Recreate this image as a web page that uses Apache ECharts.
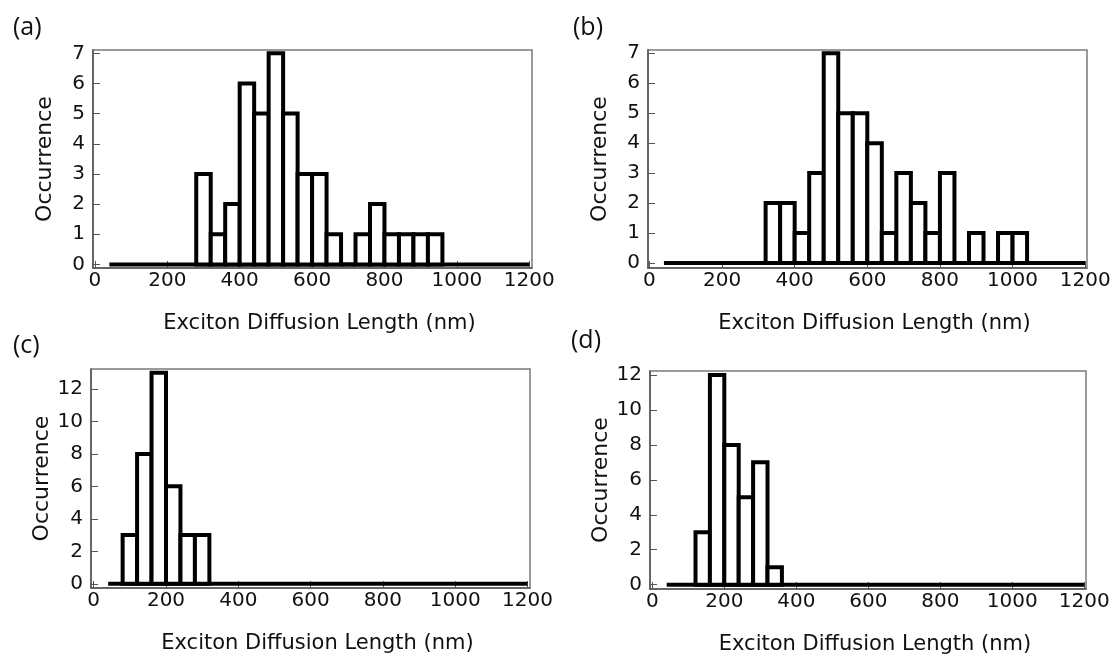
<!DOCTYPE html>
<html>
<head>
<meta charset="utf-8">
<script src="https://cdn.jsdelivr.net/npm/echarts@6/dist/echarts.min.js"></script>
<style>
  html, body { margin: 0; padding: 0; background: #fff; }
  #main { width: 1118px; height: 659px; }
</style>
</head>
<body>
<div id="main"></div>
<script>
// bin left edges (nm) and counts, bins are 40 nm wide
const binWidth = 40;
const aStarts = [280, 320, 360, 400, 440, 480, 520, 560, 600, 640, 680, 720, 760, 800, 840, 880, 920];
const aCounts = [3, 1, 2, 6, 5, 7, 5, 3, 3, 1, 0, 1, 2, 1, 1, 1, 1];
const bStarts = [320, 360, 400, 440, 480, 520, 560, 600, 640, 680, 720, 760, 800, 840, 880, 920, 960, 1000];
const bCounts = [2, 2, 1, 3, 7, 5, 5, 4, 1, 3, 2, 1, 3, 0, 1, 0, 1, 1];
const cStarts = [80, 120, 160, 200, 240, 280];
const cCounts = [3, 8, 13, 6, 3, 3];
const dStarts = [120, 160, 200, 240, 280, 320];
const dCounts = [3, 12, 8, 5, 7, 1];

// the flat zero line under every histogram
const baseLine = [[40, 0], [1200, 0]];

const xTicks = [0, 200, 400, 600, 800, 1000, 1200];
const yTicksSmall = [0, 1, 2, 3, 4, 5, 6, 7];
const yTicksBig = [0, 2, 4, 6, 8, 10, 12];
const panelLabels = ['(a)', '(b)', '(c)', '(d)'];
const xName = 'Exciton Diffusion Length (nm)';
const yName = 'Occurrence';

const font = 'DejaVu Sans';

// panel boxes and axis ranges
const panels = [
  { grid: { left: 93, top: 50, width: 439, height: 218 }, x: [-5.2, 1207.5], y: [-0.12, 7.11], ticks: yTicksSmall, starts: aStarts, counts: aCounts, lab: [13, 15] },
  { grid: { left: 648, top: 50, width: 439, height: 218 }, x: [-3.9, 1205], y: [-0.17, 7.11], ticks: yTicksSmall, starts: bStarts, counts: bCounts, lab: [573, 15] },
  { grid: { left: 91, top: 369, width: 439, height: 219 }, x: [-7.5, 1207], y: [-0.26, 13.23], ticks: yTicksBig, starts: cStarts, counts: cCounts, lab: [13, 333] },
  { grid: { left: 650, top: 371, width: 436, height: 218 }, x: [-6.4, 1204.7], y: [-0.25, 12.23], ticks: yTicksBig, starts: dStarts, counts: dCounts, lab: [571, 328] }
];

function renderBin(params, api) {
  let p0 = api.coord([api.value(0), api.value(2)]);
  let p1 = api.coord([api.value(1), 0]);
  return {
    type: 'rect',
    shape: { x: p0[0], y: p0[1], width: p1[0] - p0[0], height: p1[1] - p0[1] },
    style: { fill: '#fff', stroke: '#000', lineWidth: 4 }
  };
}

let grids = [], xAxes = [], yAxes = [], series = [], graphics = [];
panels.forEach(function (p, i) {
  grids.push(Object.assign({ show: true, borderColor: '#7a7a7a', borderWidth: 1.5, backgroundColor: '#fff' }, p.grid));
  xAxes.push({
    type: 'value', gridIndex: i, min: p.x[0], max: p.x[1],
    name: xName, nameLocation: 'middle', nameGap: 45,
    nameTextStyle: { fontFamily: font, fontSize: 21, color: '#111', padding: [0, 0, 0, 14] },
    axisLine: { show: true, onZero: false, lineStyle: { color: '#555', width: 1.5 } },
    axisTick: { show: true, inside: true, length: 7, customValues: xTicks, lineStyle: { color: '#555' } },
    axisLabel: { customValues: xTicks, margin: 3, fontFamily: font, fontSize: 20, color: '#111',
      formatter: function (v) { return String(v); } },
    splitLine: { show: false }
  });
  yAxes.push({
    type: 'value', gridIndex: i, min: p.y[0], max: p.y[1],
    name: yName, nameLocation: 'middle', nameGap: 37,
    nameTextStyle: { fontFamily: font, fontSize: 22, color: '#111' },
    axisLine: { show: true, onZero: false, lineStyle: { color: '#555', width: 1.5 } },
    axisTick: { show: true, inside: true, length: 7, customValues: p.ticks, lineStyle: { color: '#555' } },
    axisLabel: { customValues: p.ticks, margin: 8, fontFamily: font, fontSize: 20, color: '#111' },
    splitLine: { show: false }
  });
  series.push({
    type: 'line', xAxisIndex: i, yAxisIndex: i, data: baseLine,
    symbol: 'none', lineStyle: { color: '#000', width: 4 }, z: 1
  });
  series.push({
    type: 'custom', xAxisIndex: i, yAxisIndex: i,
    renderItem: renderBin,
    encode: { x: [0, 1], y: 2 },
    data: p.starts.map(function (s, k) { return [s, s + binWidth, p.counts[k]]; }),
    z: 2
  });
  graphics.push({
    type: 'text', left: p.lab[0], top: p.lab[1],
    style: { text: panelLabels[i], fontFamily: 'Open Sans', fontSize: 25, fill: '#111' }
  });
});

let myChart = echarts.init(document.getElementById('main'));
let option = {
  animation: false,
  backgroundColor: '#fff',
  grid: grids,
  xAxis: xAxes,
  yAxis: yAxes,
  series: series,
  graphic: graphics
};
myChart.setOption(option);
</script>
</body>
</html>
